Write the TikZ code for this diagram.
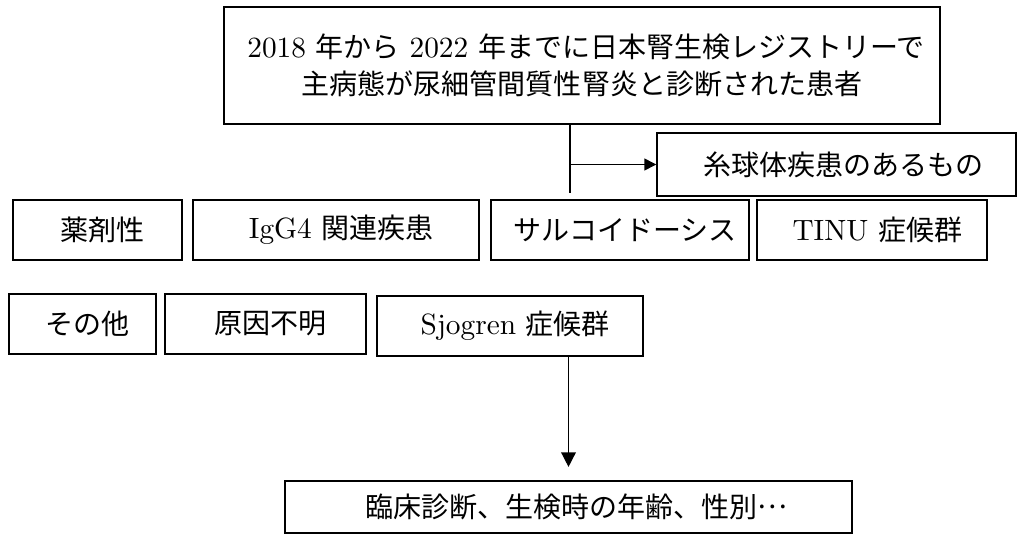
\documentclass[tikz,border=0pt]{standalone}
\usepackage{fontspec}
\setmainfont{lmroman10-regular.otf}
\newfontfamily\cjk[Scale=0.955]{Noto Sans CJK JP}
\usetikzlibrary{arrows.meta}
\begin{document}
\begin{tikzpicture}[x=0.75pt,y=-0.75pt,
  box/.style={draw, line width=1.1pt, rectangle, inner sep=0pt,
    font=\fontsize{22}{27.75}\selectfont, align=center},
  arr/.style={line width=1.1pt, -{Triangle[length=9pt,width=9pt]}},
  arrbig/.style={line width=1.1pt, -{Triangle[length=11pt,width=11pt]}},
  ln/.style={line width=1.1pt}]
\useasboundingbox[fill=white] (0,0) rectangle (1019,536);
% top box
\node[box, minimum width=537pt, minimum height=87.75pt] (top) at (582,65.5)
  {\hspace*{6pt}2018 {\cjk 年から} 2022 {\cjk 年までに日本腎生検レジストリーで}\\{\cjk 主病態が尿細管間質性腎炎と診断された患者}};
\node[box, minimum width=269.25pt, minimum height=47.25pt] (glom) at (836.5,164.5)
  {\hspace*{10pt}\cjk 糸球体疾患のあるもの};
% row 1
\node[box, minimum width=126.75pt, minimum height=45pt] (drug) at (97.5,230) {\hspace*{8pt}\cjk 薬剤性};
\node[box, minimum width=214.5pt, minimum height=45pt] (igg) at (336,230) {\hspace*{8pt}IgG4 {\cjk 関連疾患}};
\node[box, minimum width=193.5pt, minimum height=45pt] (sarc) at (620,230) {\hspace*{8pt}\cjk サルコイドーシス};
\node[box, minimum width=172.5pt, minimum height=45pt] (tinu) at (872,230) {\hspace*{8pt}TINU {\cjk 症候群}};
% row 2
\node[box, minimum width=110.25pt, minimum height=45pt] (other) at (82.5,324) {\hspace*{8pt}\cjk その他};
\node[box, minimum width=150.75pt, minimum height=45pt] (unk) at (265.5,324) {\hspace*{8pt}\cjk 原因不明};
\node[box, minimum width=199.5pt, minimum height=45pt] (sjo) at (510,326) {\hspace*{8pt}Sjogren {\cjk 症候群}};
% bottom box
\node[box, minimum width=425.25pt, minimum height=39pt] (bot) at (568.5,507)
  {\hspace*{12pt}\cjk 臨床診断、生検時の年齢、性別\raisebox{0.33em}{…}};
% connectors
\coordinate (split) at (570,164.5);
\coordinate (vend) at (570,193);
\draw[ln] (top.south -| vend) -- (vend);
\draw[arr] (split) -- (glom.west);
\draw[arrbig, shorten >=10pt] (bot.north |- sjo.south) -- (bot.north);
\end{tikzpicture}
\end{document}
